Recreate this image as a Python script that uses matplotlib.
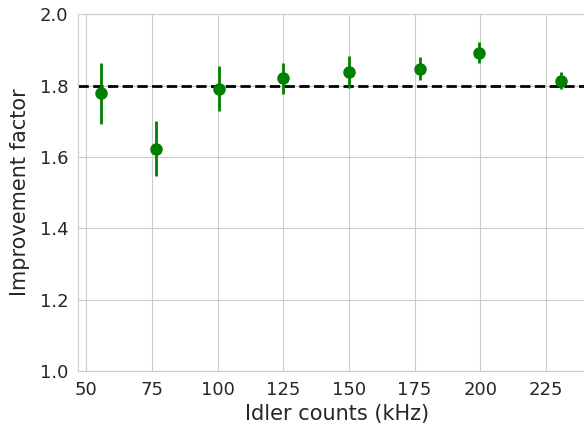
import numpy as np
import matplotlib.pyplot as plt
import seaborn as sns

# data
idler = [55.5, 76.5, 100.4, 124.8, 150.1, 176.9, 199.7, 230.9]
factor = [1.778, 1.623, 1.791, 1.820, 1.838, 1.847, 1.892, 1.813]
err = [0.086, 0.077, 0.063, 0.044, 0.045, 0.032, 0.030, 0.024]
ref_level = 1.8

sns.set_style("whitegrid")
plt.rcParams['font.family'] = ['DejaVu Sans']

fig = plt.figure(figsize=(5.84, 4.28), dpi=100)
ax = fig.add_axes([0.1336, 0.133, 0.8664 + 0.02, 0.834])

ax.errorbar(idler, factor, yerr=err, fmt='o', color='green', ms=8,
            elinewidth=2, capsize=0, zorder=3)
ax.axhline(ref_level, color='black', ls='--', lw=2, zorder=2)

ax.set_xlim(46.8, 244)
ax.set_ylim(1.0, 2.0)
ax.set_xticks([50, 75, 100, 125, 150, 175, 200, 225])
ax.set_yticks([1.0, 1.2, 1.4, 1.6, 1.8, 2.0])
ax.tick_params(labelsize=13, colors='#262626')
ax.set_xlabel("Idler counts (kHz)", fontsize=15, color='#262626')
ax.set_ylabel("Improvement factor", fontsize=15, color='#262626', labelpad=7)

fig.savefig("out.png", dpi=100)
